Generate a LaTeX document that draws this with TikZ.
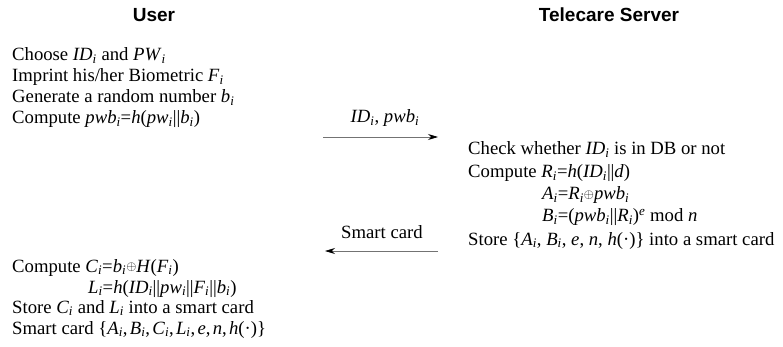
\documentclass[tikz,border=0pt]{standalone}
\usepackage{fontspec}
\usepackage{graphicx}
\setmainfont{Liberation Serif}
\newfontfamily\bodyfont{Liberation Serif}
\newfontfamily\headfont{Liberation Sans}
\usetikzlibrary{arrows.meta}
\newcommand{\sbi}{\textsubscript{\textit{i}}}
\newcommand{\xorop}{\raisebox{0.15ex}{\scalebox{0.75}{$\oplus$}}}
\newcommand{\cma}{,\hspace{0.12em}}
\begin{document}
\begin{tikzpicture}[x=1pt,y=-1pt,
  txt/.style={anchor=base west,inner sep=0pt,font=\bodyfont\fontsize{18.7}{21}\selectfont},
  head/.style={anchor=base,inner sep=0pt,font=\headfont\bfseries\fontsize{19}{22}\selectfont},
  lbl/.style={anchor=base,inner sep=0pt,font=\bodyfont\fontsize{18.7}{21}\selectfont},
  msg/.style={draw=black!55,line width=0.8pt,-{Stealth[length=10pt,width=6pt,black]}}]
\useasboundingbox (0,0) rectangle (783,347);
\node[head] (hu) at (154,22) {User};
\node[head] (hs) at (609,22) {Telecare Server};
% user top
\node[txt] (u1) at (12,61) {Choose \textit{ID}\sbi\ and \textit{PW}\sbi};
\node[txt] (u2) at (12,82) {Imprint his/her Biometric \textit{F}\sbi};
\node[txt] (u3) at (12,103) {Generate a random number \textit{b}\sbi};
\node[txt] (u4) at (12,124) {Compute \textit{pwb}\sbi=\textit{h}(\textit{pw}\sbi||\textit{b}\sbi)};
% server
\node[txt] (s1) at (468,155) {Check whether \textit{ID}\sbi\ is in DB or not};
\node[txt] (s2) at (468,178) {Compute \textit{R}\sbi=\textit{h}(\textit{ID}\sbi||\textit{d})};
\node[txt] (s3) at (542,200) {\textit{A}\sbi=\textit{R}\sbi\xorop\textit{pwb}\sbi};
\node[txt] (s4) at (542,222) {\textit{B}\sbi=(\textit{pwb}\sbi||\textit{R}\sbi)\textsuperscript{\textit{e}} mod \textit{n}};
\node[txt] (s5) at (468,245) {Store \{\textit{A}\sbi, \textit{B}\sbi, \textit{e}, \textit{n}, \textit{h}(·)\} into a smart card};
% user bottom
\node[txt] (u5) at (12,272) {Compute \textit{C}\sbi=\textit{b}\sbi\xorop\textit{H}(\textit{F}\sbi)};
\node[txt] (u6) at (88,293) {\textit{L}\sbi=\textit{h}(\textit{ID}\sbi||\textit{pw}\sbi||\textit{F}\sbi||\textit{b}\sbi)};
\node[txt] (u7) at (12,313) {Store \textit{C}\sbi\ and \textit{L}\sbi\ into a smart card};
\node[txt] (u8) at (12,334) {Smart card \{\textit{A}\sbi\cma\textit{B}\sbi\cma\textit{C}\sbi\cma\textit{L}\sbi\cma\textit{e}\cma\textit{n}\cma\textit{h}(·)\}};
% messages
\coordinate (a1s) at (323,137);
\coordinate (a1e) at (438,137);
\coordinate (a2s) at (438,251);
\coordinate (a2e) at (325,251);
\draw[msg] (a1s) -- (a1e);
\draw[msg] (a2s) -- (a2e);
\node[lbl] (m1) at (385,123) {\textit{ID}\sbi, \textit{pwb}\sbi};
\node[lbl] (m2) at (382,238) {Smart card};
\end{tikzpicture}
\end{document}
